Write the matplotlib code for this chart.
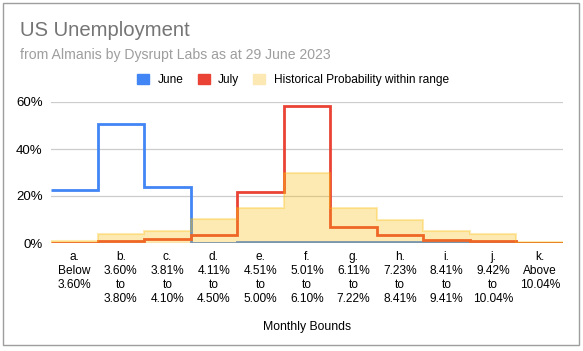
import matplotlib
matplotlib.use('Agg')

import numpy as np
import matplotlib.pyplot as plt
from matplotlib.patches import Patch, Rectangle
from matplotlib.ticker import PercentFormatter

plt.rcParams['font.family'] = ['Liberation Sans', 'DejaVu Sans']

# data (percent)
bounds = ["a.\nBelow\n3.60%", "b.\n3.60%\nto\n3.80%", "c.\n3.81%\nto\n4.10%",
          "d.\n4.11%\nto\n4.50%", "e.\n4.51%\nto\n5.00%", "f.\n5.01%\nto\n6.10%",
          "g.\n6.11%\nto\n7.22%", "h.\n7.23%\nto\n8.41%", "i.\n8.41%\nto\n9.41%",
          "j.\n9.42%\nto\n10.04%", "k.\nAbove\n10.04%"]
june = [22.5, 50.5, 24.0, 0.2, 0.5, 0.5, 0.4, 0.3, 0.5, 0.5, 0.0]
july = [0.2, 1.0, 1.5, 3.2, 21.6, 58.2, 7.0, 3.4, 1.4, 1.0, 0.2]
historical = [0.7, 3.9, 4.9, 10.1, 15.1, 30.0, 15.1, 10.0, 5.0, 3.8, 0.4]

BLUE = '#4285f4'
RED = '#ea4335'
YELLOW = '#fbbc04'

fig = plt.figure(figsize=(5.83, 3.51), dpi=100)
ax = fig.add_axes([51 / 583, 1 - 243 / 351, 512 / 583, 141 / 351])

edges = np.arange(len(bounds) + 1)
ax.stairs(june, edges, color=BLUE, lw=2, baseline=None, zorder=2)
ax.stairs(july, edges, color=RED, lw=2, baseline=None, zorder=2)
# historical area sits on top of the lines, semi-transparent
ax.stairs(historical, edges, fill=True, color=YELLOW, alpha=0.3, lw=0, zorder=3)
ax.stairs(historical, edges, color=YELLOW, alpha=0.3, lw=1.5, baseline=None, zorder=3)

ax.set_xlim(0, len(bounds))
ax.set_ylim(0, 60)
ax.set_yticks([0, 20, 40, 60])
ax.yaxis.set_major_formatter(PercentFormatter(decimals=0))
ax.set_xticks(edges[:-1] + 0.5)
ax.set_xticklabels(bounds, fontsize=8.6, linespacing=1.2)
ax.tick_params(length=0, pad=6)
ax.tick_params(axis='y', labelsize=9.5, pad=6)
ax.grid(axis='y', color='#cccccc', lw=0.9, zorder=0)
ax.set_axisbelow(True)
for s in ax.spines.values():
    s.set_visible(False)
ax.set_xlabel("Monthly Bounds", fontsize=8.8, labelpad=12)

fig.text(20 / 583, 1 - 30 / 351, "US Unemployment", fontsize=14.6, color='#757575', va='center')
fig.text(20 / 583, 1 - 55 / 351, "from Almanis by Dysrupt Labs as at 29 June 2023",
         fontsize=10.1, color='#9e9e9e', va='center')

handles = [Patch(color=BLUE), Patch(color=RED), Patch(color='#fce8b2')]
fig.legend(handles, ["June", "July", "Historical Probability within range"],
           loc='center', bbox_to_anchor=(293 / 583, 1 - 80 / 351), ncol=3, frameon=False,
           fontsize=8.6, handlelength=1.0, handleheight=1.0, columnspacing=1.2, handletextpad=0.7)

fig.patches.append(Rectangle((3 / 583, 6 / 351), 576 / 583, 342 / 351, transform=fig.transFigure,
                             fill=False, edgecolor='#9e9e9e', lw=1))

fig.savefig('out.png', dpi=100)
